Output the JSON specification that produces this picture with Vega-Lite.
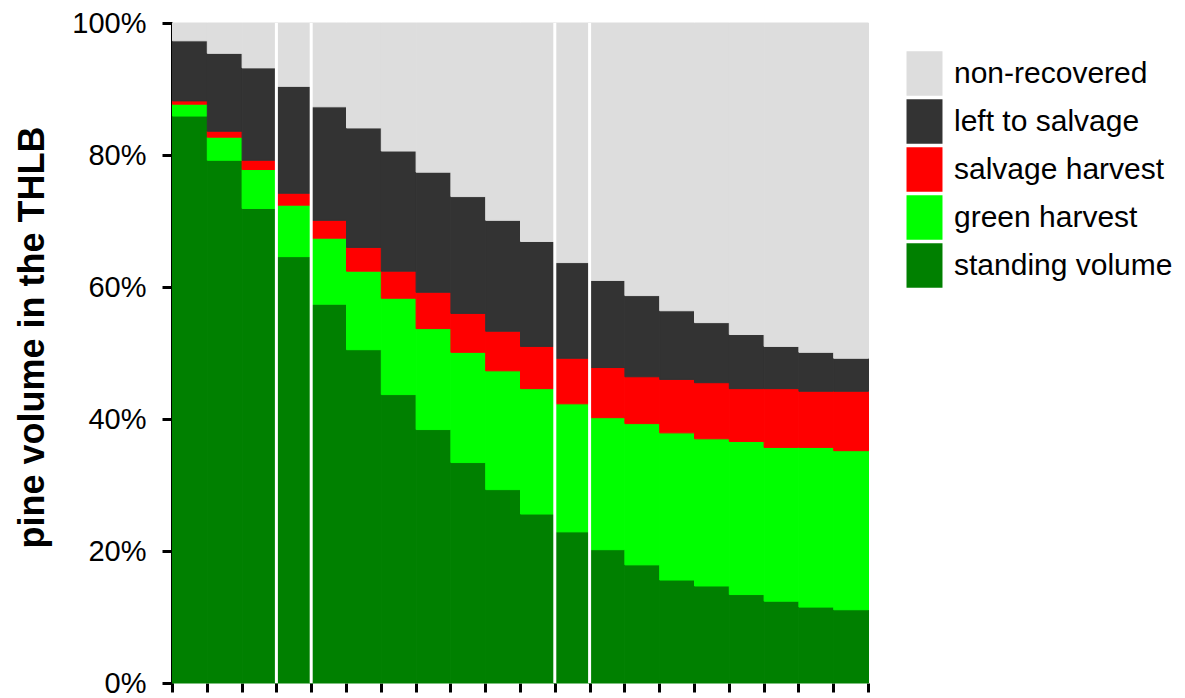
{
  "$schema": "https://vega.github.io/schema/vega-lite/v6.json",
  "autosize": {"type": "none"},
  "padding": {"left": 172, "top": 23, "right": 317, "bottom": 15},
  "width": 696,
  "height": 660,
  "background": "white",
  "config": {
    "view": {"stroke": null},
    "font": "Liberation Sans",
    "axis": {"grid": false}
  },
  "datasets": {
    "bars": [
      {"period": 0, "standing volume": 85.9, "green harvest": 1.8, "salvage harvest": 0.5, "left to salvage": 9.1, "non-recovered": 2.7},
      {"period": 1, "standing volume": 79.2, "green harvest": 3.5, "salvage harvest": 0.9, "left to salvage": 11.8, "non-recovered": 4.6},
      {"period": 2, "standing volume": 71.9, "green harvest": 5.9, "salvage harvest": 1.4, "left to salvage": 14.0, "non-recovered": 6.8},
      {"period": 3, "standing volume": 64.6, "green harvest": 7.8, "salvage harvest": 1.8, "left to salvage": 16.2, "non-recovered": 9.6},
      {"period": 4, "standing volume": 57.4, "green harvest": 10.0, "salvage harvest": 2.7, "left to salvage": 17.2, "non-recovered": 12.7},
      {"period": 5, "standing volume": 50.5, "green harvest": 11.9, "salvage harvest": 3.6, "left to salvage": 18.1, "non-recovered": 15.9},
      {"period": 6, "standing volume": 43.7, "green harvest": 14.6, "salvage harvest": 4.1, "left to salvage": 18.2, "non-recovered": 19.4},
      {"period": 7, "standing volume": 38.4, "green harvest": 15.3, "salvage harvest": 5.5, "left to salvage": 18.2, "non-recovered": 22.6},
      {"period": 8, "standing volume": 33.4, "green harvest": 16.7, "salvage harvest": 5.9, "left to salvage": 17.7, "non-recovered": 26.3},
      {"period": 9, "standing volume": 29.3, "green harvest": 18.0, "salvage harvest": 6.0, "left to salvage": 16.8, "non-recovered": 29.9},
      {"period": 10, "standing volume": 25.6, "green harvest": 19.0, "salvage harvest": 6.4, "left to salvage": 15.9, "non-recovered": 33.1},
      {"period": 11, "standing volume": 22.9, "green harvest": 19.4, "salvage harvest": 6.9, "left to salvage": 14.5, "non-recovered": 36.3},
      {"period": 12, "standing volume": 20.2, "green harvest": 20.0, "salvage harvest": 7.6, "left to salvage": 13.2, "non-recovered": 39.0},
      {"period": 13, "standing volume": 17.9, "green harvest": 21.4, "salvage harvest": 7.1, "left to salvage": 12.3, "non-recovered": 41.3},
      {"period": 14, "standing volume": 15.6, "green harvest": 22.3, "salvage harvest": 8.1, "left to salvage": 10.4, "non-recovered": 43.6},
      {"period": 15, "standing volume": 14.7, "green harvest": 22.3, "salvage harvest": 8.5, "left to salvage": 9.1, "non-recovered": 45.4},
      {"period": 16, "standing volume": 13.4, "green harvest": 23.2, "salvage harvest": 8.0, "left to salvage": 8.2, "non-recovered": 47.2},
      {"period": 17, "standing volume": 12.4, "green harvest": 23.3, "salvage harvest": 8.9, "left to salvage": 6.4, "non-recovered": 49.0},
      {"period": 18, "standing volume": 11.5, "green harvest": 24.2, "salvage harvest": 8.5, "left to salvage": 5.9, "non-recovered": 49.9},
      {"period": 19, "standing volume": 11.1, "green harvest": 24.1, "salvage harvest": 9.0, "left to salvage": 5.0, "non-recovered": 50.8}
    ],
    "breaks": [
      {"boundary": 3},
      {"boundary": 4},
      {"boundary": 11},
      {"boundary": 12}
    ]
  },
  "layer": [
    {
      "data": {"name": "bars"},
      "transform": [
        {"fold": ["standing volume", "green harvest", "salvage harvest", "left to salvage", "non-recovered"], "as": ["component", "pct"]},
        {"window": [{"op": "row_number", "as": "layer"}], "groupby": ["period"]}
      ],
      "mark": {"type": "bar", "binSpacing": 0, "strokeWidth": 1},
      "encoding": {
        "x": {
          "field": "period",
          "type": "quantitative",
          "bin": {"binned": true, "step": 1},
          "scale": {"domain": [0, 20], "nice": false, "zero": false},
          "axis": {
            "title": null,
            "labels": false,
            "domain": false,
            "values": [0,1,2,3,4,5,6,7,8,9,10,11,12,13,14,15,16,17,18,19,20],
            "tickSize": 9,
            "tickWidth": 3,
            "tickColor": "#000000",
            "tickOffset": 0
          }
        },
        "y": {
          "field": "pct",
          "type": "quantitative",
          "stack": "zero",
          "scale": {"domain": [0, 100], "nice": false},
          "axis": {
            "values": [0, 20, 40, 60, 80, 100],
            "labelExpr": "datum.value + '%'",
            "labelFontSize": 29,
            "labelColor": "#000000",
            "labelPadding": 16,
            "labelFont": "Liberation Sans",
            "tickSize": 10,
            "tickWidth": 3,
            "tickColor": "#000000",
            "domainColor": "#000000",
            "domainWidth": 3,
            "title": "pine volume in the THLB",
            "titleFont": "Liberation Sans",
            "titleFontSize": 36,
            "titleFontWeight": "bold",
            "titleColor": "#000000",
            "titleAngle": -90,
            "titleAlign": "center",
            "titleBaseline": "alphabetic",
            "titleX": -129,
            "titleY": 314
          }
        },
        "order": {"field": "layer", "type": "quantitative", "sort": "ascending"},
        "color": {
          "field": "component",
          "type": "nominal",
          "scale": {
            "domain": ["non-recovered", "left to salvage", "salvage harvest", "green harvest", "standing volume"],
            "range": ["#DDDDDD", "#333333", "#FF0000", "#00FF00", "#008000"]
          },
          "legend": {
            "title": null,
            "orient": "none",
            "legendX": 730,
            "legendY": 28,
            "padding": 0,
            "symbolType": "M-0.805,-1H0.805V1H-0.805Z",
            "symbolSize": 1998,
            "symbolStrokeWidth": 0,
            "symbolOpacity": 1,
            "labelFont": "Liberation Sans",
            "labelFontSize": 30,
            "labelColor": "#000000",
            "labelLimit": 400,
            "labelOffset": 7,
            "rowPadding": 3
          }
        },
        "stroke": {
          "field": "component",
          "type": "nominal",
          "scale": {
            "domain": ["non-recovered", "left to salvage", "salvage harvest", "green harvest", "standing volume"],
            "range": ["#DDDDDD", "#333333", "#FF0000", "#00FF00", "#008000"]
          },
          "legend": null
        }
      }
    },
    {
      "data": {"name": "breaks"},
      "mark": {"type": "rule", "color": "#FFFFFF", "strokeWidth": 3},
      "encoding": {
        "x": {"field": "boundary", "type": "quantitative"}
      }
    }
  ]
}
